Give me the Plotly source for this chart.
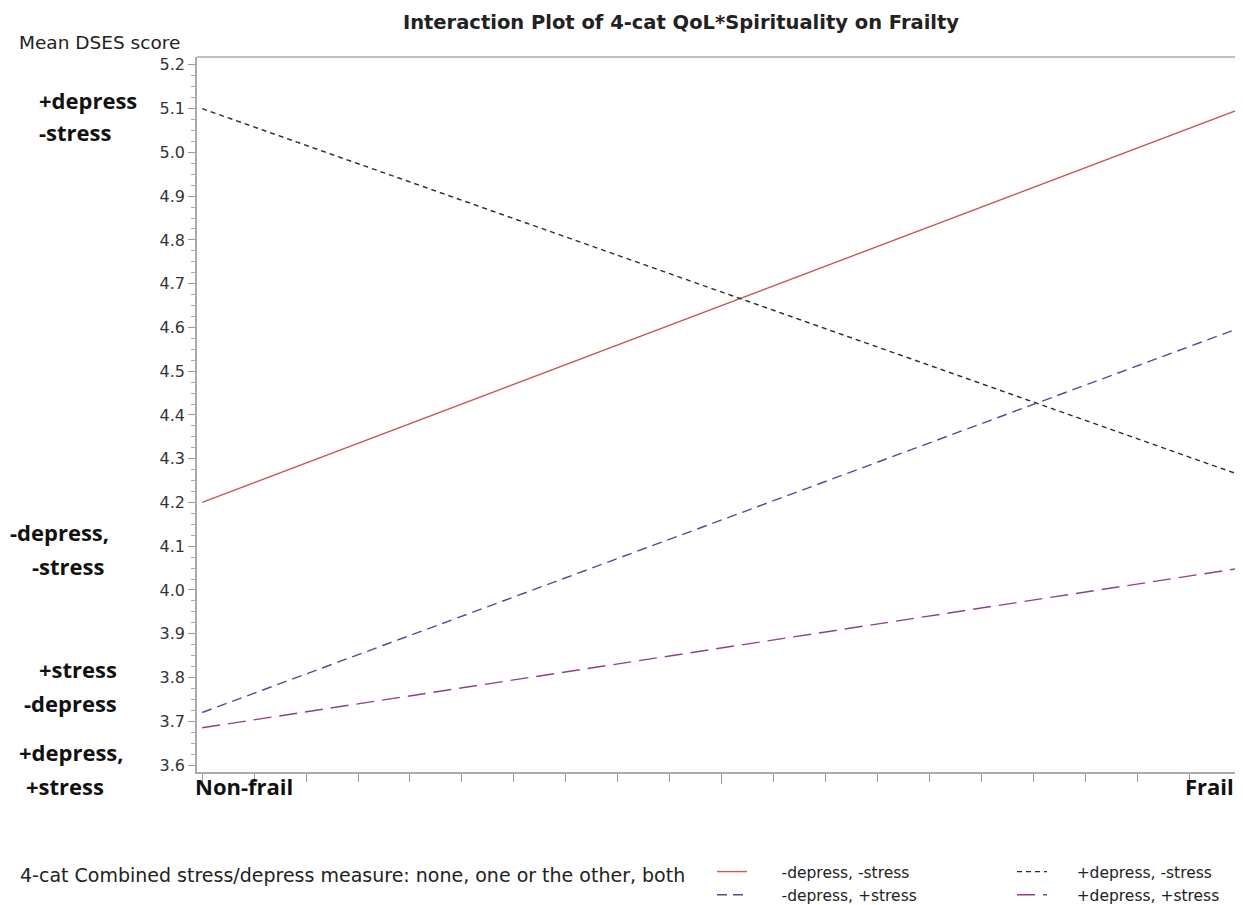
import plotly.graph_objects as go

# ---- data ----
frailty_levels = ["Non-frail", "Frail"]
x_pos = [0, 1]
series_names = ["-depress, -stress", "+depress, -stress", "-depress, +stress", "+depress, +stress"]
val_neg_dep_neg_str = [4.20, 5.10]
val_pos_dep_neg_str = [5.10, 4.262]
val_neg_dep_pos_str = [3.72, 4.60]
val_pos_dep_pos_str = [3.685, 4.05]

colors = ["#c65a56", "#2b2b2b", "#46509a", "#8e3f8f"]
dashes = ["solid", "5px,4px", "10px,6px", "18px,8px"]
legend_ids = ["legend", "legend2", "legend", "legend2"]
legend_pad = ["\u00a0" * 6, "\u00a0" * 5, "\u00a0" * 6, "\u00a0" * 5]

# page body has an 8px margin; figure sized/positioned to compensate
OFF = 8
W, H = 1243 - OFF, 905 - OFF
ML, MR, MT, MB = 197 - OFF, 2, 57 - OFF, 133
PW, PH = W - ML - MR, H - MT - MB


def px(xs):
    return (xs - OFF - ML) / PW


def py(ys):
    return (H - MB - (ys - OFF)) / PH


fig = go.Figure()
for name, vals, c, d, lg, pad in zip(series_names,
                                     [val_neg_dep_neg_str, val_pos_dep_neg_str, val_neg_dep_pos_str, val_pos_dep_pos_str],
                                     colors, dashes, legend_ids, legend_pad):
    fig.add_trace(go.Scatter(x=x_pos, y=vals, mode="lines", name=pad + name,
                             line=dict(color=c, width=1.4, dash=d), legend=lg))

legend_font = dict(family="DejaVu Sans", size=15.5, color="#222")
fig.update_layout(
    width=W, height=H,
    margin=dict(l=ML, r=MR, t=MT, b=MB, autoexpand=False),
    paper_bgcolor="white", plot_bgcolor="white",
    showlegend=True,
    title=dict(text="<b>Interaction Plot of 4-cat QoL*Spirituality on Frailty</b>",
               xref="container", yref="container",
               x=(681 - OFF) / W, xanchor="center", y=1 - (22 - OFF) / H, yanchor="middle",
               font=dict(family="DejaVu Sans", size=19.5, color="#222")),
    xaxis=dict(range=[-0.005, 1.0], showgrid=False, zeroline=False,
               showline=True, linecolor="#aaaaaa", linewidth=1.5, mirror=False,
               tickmode="array", tickvals=[0, 0.5, 1], ticks="outside", ticklen=10,
               tickcolor="#999999", showticklabels=False,
               minor=dict(dtick=0.05, ticks="outside", ticklen=8, tickcolor="#999999", showgrid=False)),
    yaxis=dict(range=[3.584, 5.218], showgrid=False, zeroline=False,
               showline=True, linecolor="#aaaaaa", linewidth=1.5,
               dtick=0.1, tick0=3.6, tickformat=".1f", ticks="outside", ticklen=7,
               tickcolor="#999999",
               tickfont=dict(family="DejaVu Sans", size=16, color="#333"),
               minor=dict(dtick=0.025, ticks="outside", ticklen=4, tickcolor="#aaaaaa", showgrid=False)),
    legend=dict(x=px(712), y=py(855), xanchor="left", yanchor="top", orientation="v",
                font=legend_font, tracegroupgap=0, bgcolor="rgba(0,0,0,0)"),
    legend2=dict(x=px(1012), y=py(855), xanchor="left", yanchor="top", orientation="v",
                 font=legend_font, tracegroupgap=0, bgcolor="rgba(0,0,0,0)"),
)

# top frame line
fig.add_shape(type="line", xref="paper", yref="paper", x0=0, x1=1, y0=1, y1=1,
              line=dict(color="#aaaaaa", width=1.5))

ann = []
ann.append(dict(text="Mean DSES score", x=px(17), y=py(43), xanchor="left", yanchor="middle",
                font=dict(family="DejaVu Sans", size=18.5, color="#222")))
ann.append(dict(text="4-cat Combined stress/depress measure: none, one or the other, both",
                x=px(18), y=py(875), xanchor="left", yanchor="middle",
                font=dict(family="DejaVu Sans", size=19, color="#222")))

bold_font = dict(family="Open Sans", size=22, color="#111")
side_labels = [
    ("+depress", 37, 100), ("-stress", 37, 132),
    ("-depress,", 8, 532), ("-stress", 30, 566),
    ("+stress", 37, 669), ("-depress", 22, 703),
    ("+depress,", 17, 752), ("+stress", 24, 786),
]
for t, xl, yc in side_labels:
    ann.append(dict(text="<b>" + t + "</b>", x=px(xl), y=py(yc), xanchor="left", yanchor="middle",
                    font=bold_font))

ann.append(dict(text="<b>" + frailty_levels[0] + "</b>", x=px(193), y=py(786), xanchor="left",
                yanchor="middle", font=bold_font))
ann.append(dict(text="<b>" + frailty_levels[1] + "</b>", x=px(1236), y=py(786), xanchor="right",
                yanchor="middle", font=bold_font))

for a in ann:
    a.update(xref="paper", yref="paper", showarrow=False)
fig.update_layout(annotations=ann)

fig.write_html("out.html")
